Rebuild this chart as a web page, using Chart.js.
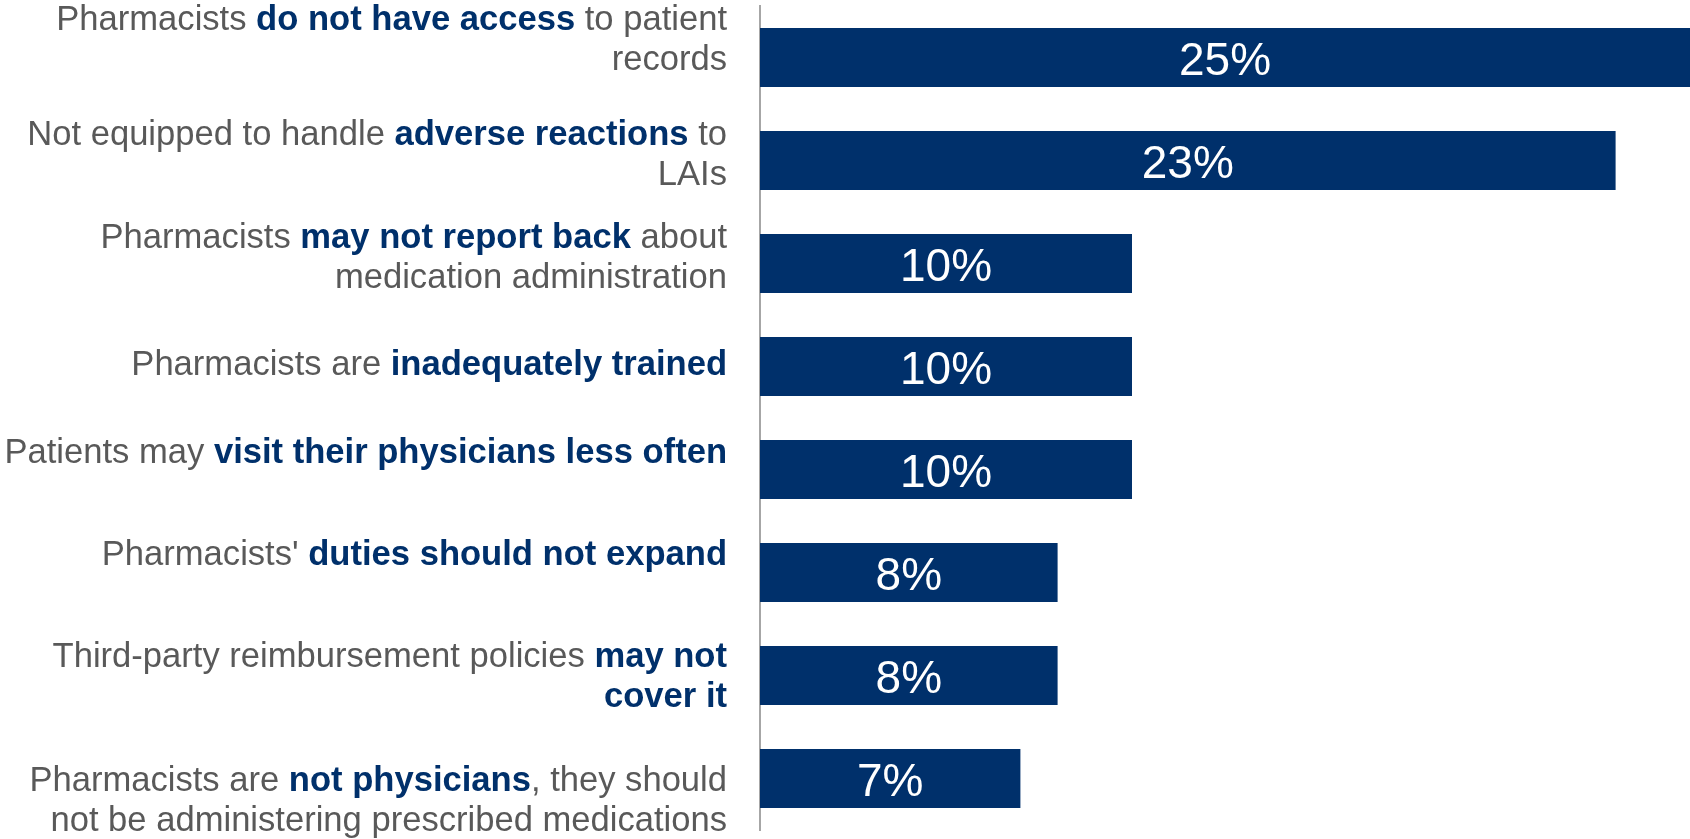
<!DOCTYPE html>
<html>
<head>
<meta charset="utf-8">
<title>Pharmacist concerns</title>
<script src="https://cdn.jsdelivr.net/npm/chart.js@4/dist/chart.umd.min.js"></script>
<style>
  html, body { margin: 0; padding: 0; background: #fff; }
  #wrap { width: 1690px; height: 839px; position: relative; }
</style>
</head>
<body>
<div id="wrap"><canvas id="chart"></canvas></div>
<script>
// '**' toggles the bold navy part of a label, '\n' breaks the line
const categories = [
  'Pharmacists **do not have access** to patient\nrecords',
  'Not equipped to handle **adverse reactions** to\nLAIs',
  'Pharmacists **may not report back** about\nmedication administration',
  'Pharmacists are **inadequately trained**',
  'Patients may **visit their physicians less often**',
  "Pharmacists' **duties should not expand**",
  'Third-party reimbursement policies **may not\ncover it**',
  'Pharmacists are **not physicians**, they should\nnot be administering prescribed medications'
];
const shares = [25, 23, 10, 10, 10, 8, 8, 7];

const FONT = '"Liberation Sans", Arial, Helvetica, sans-serif';
const NAVY = '#00306b';
const GREY = '#595959';

const plainLabel = (s) => s.replace(/\*\*/g, '').replace(/\n/g, ' ');

// split a marked-up label into lines of { text, bold } runs
const parseLabel = (s) => {
  const lines = [[]];
  s.split('**').forEach((chunk, i) => {
    const bold = i % 2 === 1;
    chunk.split('\n').forEach((part, j) => {
      if (j > 0) lines.push([]);
      if (part) lines[lines.length - 1].push({ text: part, bold });
    });
  });
  return lines;
};

const categoryLabels = {
  id: 'categoryLabels',
  afterDraw(chart, args, opts) {
    const { ctx, scales: { y } } = chart;
    const size = opts.size;
    ctx.save();
    ctx.textBaseline = 'alphabetic';
    ctx.textAlign = 'left';
    categories.forEach((label, i) => {
      const lines = parseLabel(label);
      const center = y.getPixelForTick(i) + (opts.nudge[i] || 0);
      lines.forEach((runs, k) => {
        const base = center + size * 0.357 + (k - (lines.length - 1) / 2) * opts.lineHeight;
        let width = 0;
        runs.forEach(r => {
          ctx.font = `${r.bold ? 'bold ' : ''}${size}px ${FONT}`;
          width += ctx.measureText(r.text).width;
        });
        let x = opts.right - width;
        runs.forEach(r => {
          ctx.font = `${r.bold ? 'bold ' : ''}${size}px ${FONT}`;
          ctx.fillStyle = r.bold ? NAVY : GREY;
          ctx.fillText(r.text, x, base);
          x += ctx.measureText(r.text).width;
        });
      });
    });
    ctx.restore();
  }
};

const valueLabels = {
  id: 'valueLabels',
  afterDatasetsDraw(chart) {
    const { ctx } = chart;
    const meta = chart.getDatasetMeta(0);
    ctx.save();
    ctx.font = `46px ${FONT}`;
    ctx.fillStyle = '#fff';
    ctx.textAlign = 'center';
    ctx.textBaseline = 'alphabetic';
    meta.data.forEach((bar, i) => {
      const v = chart.data.datasets[0].data[i];
      ctx.fillText(`${v}%`, (bar.x + bar.base) / 2, bar.y + 17.5);
    });
    ctx.restore();
  }
};

const ctx = document.getElementById('chart').getContext('2d');
const chart = new Chart(ctx, {
  type: 'bar',
  data: {
    labels: categories.map(plainLabel),
    datasets: [{
      data: shares,
      backgroundColor: NAVY,
      borderWidth: 0,
      categoryPercentage: 1,
      barPercentage: 0.573,
    }]
  },
  options: {
    indexAxis: 'y',
    responsive: true,
    maintainAspectRatio: false,
    animation: false,
    layout: { padding: { top: 6, bottom: 9, left: 0, right: 0 } },
    plugins: {
      legend: { display: false },
      tooltip: { enabled: false },
      categoryLabels: {
        size: 34.6,
        lineHeight: 40,
        right: 727,
        nudge: [-20, -8, -8, -4, -19, -20, -1, 20],
      },
    },
    scales: {
      x: { display: false, min: 0, max: 25 },
      y: {
        grid: { display: false },
        border: { display: true, color: '#a6a6a6', width: 2 },
        ticks: { display: false },
        afterFit: (scale) => { scale.width = 760; },
      },
    },
  },
  plugins: [categoryLabels, valueLabels],
});
</script>
</body>
</html>
